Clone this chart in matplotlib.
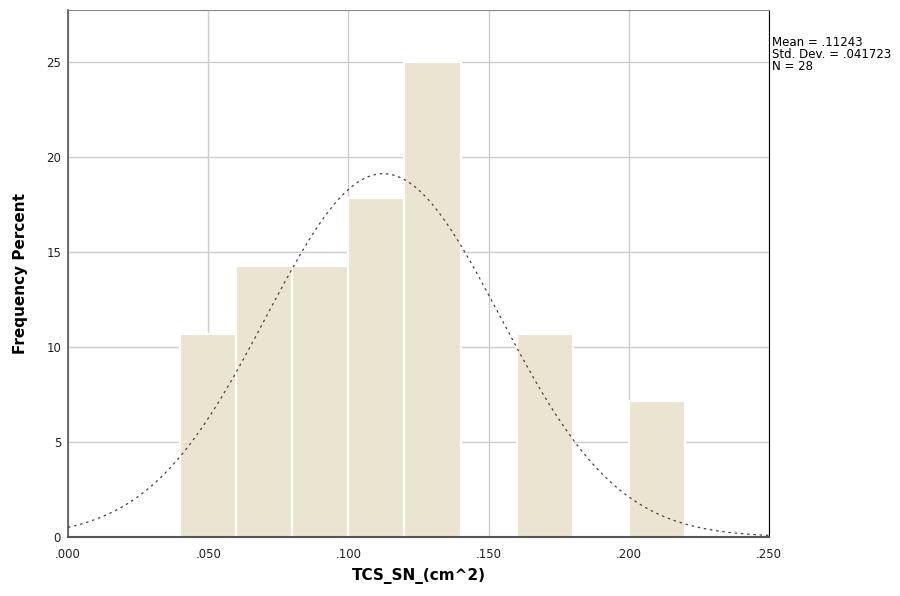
import numpy as np
import matplotlib
matplotlib.use('Agg')
import matplotlib.pyplot as plt

# histogram bins (cm^2) and frequency percent
bin_left = [0.04, 0.06, 0.08, 0.10, 0.12, 0.16, 0.20]
percent = [10.71, 14.29, 14.29, 17.86, 25.0, 10.71, 7.14]
bin_width = 0.02

mean = 0.11243
std_dev = 0.041723
n = 28

x_ticks = [0.0, 0.05, 0.10, 0.15, 0.20, 0.25]
x_tick_labels = ['.000', '.050', '.100', '.150', '.200', '.250']
y_ticks = [0, 5, 10, 15, 20, 25]

plt.rcParams['font.family'] = ['DejaVu Sans']

fig = plt.figure(figsize=(9, 5.96), dpi=100)
ax = fig.add_axes([68 / 900, 1 - 537 / 596, (769 - 68) / 900, (537 - 10) / 596])

ax.bar(bin_left, percent, width=bin_width, align='edge', color='#ebe4d0',
       edgecolor='white', linewidth=1.5, zorder=2)

# normal curve scaled to percent per bin
xs = np.linspace(0, 0.25, 400)
curve = 100 * bin_width * np.exp(-0.5 * ((xs - mean) / std_dev) ** 2) / (std_dev * np.sqrt(2 * np.pi))
ax.plot(xs, curve, color='#444444', linewidth=0.9, linestyle=(0, (2, 3)), zorder=3)

ax.set_xlim(0, 0.25)
ax.set_ylim(0, 27.74)
ax.set_xticks(x_ticks)
ax.set_xticklabels(x_tick_labels)
ax.set_yticks(y_ticks)
ax.tick_params(length=0, labelsize=8.5, colors='#222222')
ax.tick_params(axis='x', pad=8)
ax.tick_params(axis='y', pad=5)
ax.grid(True, color='#cccccc', linewidth=1, zorder=0)
ax.set_axisbelow(True)

ax.spines['left'].set_color('#555555')
ax.spines['left'].set_linewidth(1.2)
ax.spines['bottom'].set_color('#555555')
ax.spines['bottom'].set_linewidth(1.5)
ax.spines['top'].set_color('#888888')
ax.spines['right'].set_color('black')

ax.set_xlabel('TCS_SN_(cm^2)', fontsize=11, fontweight='bold', labelpad=5)
ax.set_ylabel('Frequency Percent', fontsize=11, fontweight='bold', labelpad=13)

fig.text(772 / 900, 1 - 36 / 596,
         'Mean = .11243\nStd. Dev. = .041723\nN = %d' % n,
         fontsize=8.5, va='top', ha='left', linespacing=0.9)

fig.savefig('out.png', dpi=100)
